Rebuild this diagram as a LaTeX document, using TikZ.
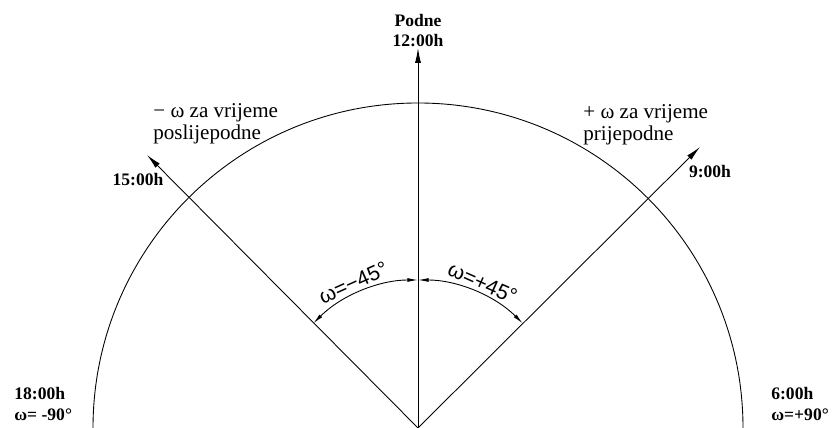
\documentclass[tikz,border=0pt]{standalone}
\usepackage{fontspec}
\setmainfont{Liberation Serif}
\newfontfamily\cadfont{Liberation Sans}
\usetikzlibrary{arrows.meta,positioning}

\begin{document}
\begin{tikzpicture}[x=0.02cm, y=0.02cm, every node/.style={font=\fontsize{12}{13}\selectfont}]
\tikzstyle{hour}=[font=\fontsize{10}{11.5}\selectfont\bfseries, inner sep=0pt, align=left]
\tikzstyle{note}=[font=\fontsize{12}{12.8}\selectfont, inner sep=0pt, align=left]
\tikzstyle{ray}=[line width=0.5pt, -{Latex[length=8.5pt, width=3.4pt]}]
\tikzstyle{dim}=[line width=0.5pt, {Latex[length=6pt, width=2.2pt]}-{Latex[length=6pt, width=2.2pt]}]
\tikzstyle{angl}=[font=\fontsize{12}{13}\selectfont\cadfont, inner sep=0pt]
\useasboundingbox (0,0) rectangle (832,428);
\coordinate (o) at (418,0);
\coordinate (noon) at (418,380);
\coordinate (nine) at (700,281);
\coordinate (three) at (147,273);
% horizon semicircle
\draw[line width=0.5pt] ([shift={(0:325)}]o) arc (0:180:325);
\draw[ray] (o) -- (noon);
\draw[ray] (o) -- (nine);
\draw[ray] (o) -- (three);
\draw[dim] ([shift={(90:148)}]o) arc (90:135:148);
\draw[dim] ([shift={(90:148)}]o) arc (90:45:148);
\node[angl, rotate=24] (wm) at ([shift={(114:159)}]o) {ω=−45°};
\node[angl, rotate=-24] (wp) at ([shift={(66:159)}]o) {ω=+45°};
\node[hour, align=center, anchor=south] (podne) at (418,381) {Podne\\12:00h};
\node[hour] (h15) at (138,248) {15:00h};
\node[hour] (h9) at (710,256) {9:00h};
\node[hour, anchor=west] (h18) at (14,24) {18:00h\\ω= -90°};
\node[hour, anchor=west] (h6) at (771,24) {6:00h\\ω=+90°};
\node[note, anchor=west] (pm) at (153,304) {− ω za vrijeme\\poslijepodne};
\node[note, anchor=west] (am) at (583,303) {+ ω za vrijeme\\prijepodne};
\end{tikzpicture}
\end{document}
